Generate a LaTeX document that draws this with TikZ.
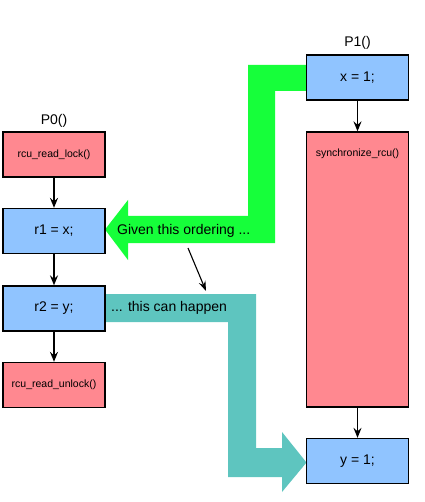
\documentclass[tikz,border=0pt]{standalone}
\usepackage{fontspec}
\setmainfont{Liberation Sans}
\usetikzlibrary{arrows.meta}
\definecolor{boxred}{RGB}{255,136,144}
\definecolor{boxblue}{RGB}{144,196,255}
\definecolor{arrgreen}{RGB}{22,255,58}
\definecolor{arrteal}{RGB}{94,197,191}
\tikzset{
  box/.style={draw=black, line width=1.3pt, minimum width=102pt, minimum height=45pt, inner sep=0pt},
  redbox/.style={box, fill=boxred, font=\fontsize{10.5}{12}\selectfont},
  bluebox/.style={box, fill=boxblue, font=\fontsize{14}{16}\selectfont},
  title/.style={font=\fontsize{14}{16}\selectfont},
  big/.style={font=\fontsize{14}{16}\selectfont, inner sep=0pt, anchor=west},
  arr/.style={line width=1.4pt, -{Stealth[length=10pt, width=8pt, inset=3.5pt]}},
  thinarr/.style={line width=1.1pt, -{Stealth[length=10pt, width=7pt, inset=3.5pt]}},
}
\begin{document}
\begin{tikzpicture}[x=1pt, y=-1pt]
\useasboundingbox (0,0) rectangle (424,502);
% big arrows
\fill[arrgreen] (307,65) -- (248,65) -- (248,216) -- (128,216) -- (128,200) -- (105,229.5)
  -- (128,260) -- (128,243) -- (275,243) -- (275,91) -- (307,91) -- cycle;
\fill[arrteal] (105,294) -- (256,294) -- (256,448) -- (282,448) -- (282,432) -- (306.5,462.5)
  -- (282,492) -- (282,477) -- (228,477) -- (228,322) -- (105,322) -- cycle;
% P0
\node[title] (p0) at (54,121) {P0()};
\node[redbox] (lock) at (54,154.5) {rcu\_read\_lock()};
\node[bluebox] (r1) at (54,231) {r1 = x;};
\node[bluebox] (r2) at (54,308.5) {r2 = y;};
\node[redbox] (unlock) at (54,385) {rcu\_read\_unlock()};
% P1
\node[title] (p1) at (357.5,43) {P1()};
\node[bluebox] (x1) at (357.5,77.5) {x = 1;};
\node[redbox, minimum height=275pt, label={[anchor=north, yshift=-14pt, font=\fontsize{10.5}{12}\selectfont]north:synchronize\_rcu()}] (sync) at (357.5,269.5) {};
\node[bluebox] (y1) at (357.5,461) {y = 1;};
% texts
\node[big] (given) at (117,231) {Given this ordering ...};
\node[big] (happen) at (111,308) {... this can happen};
\coordinate (ga) at (188,248);
\coordinate (gb) at (206,291);
% connectors
\draw[arr] (lock) -- (r1);
\draw[arr] (r1) -- (r2);
\draw[arr] (r2) -- (unlock);
\draw[arr] (x1) -- (sync);
\draw[arr] (sync) -- (y1);
\draw[thinarr] (ga) -- (gb);
\end{tikzpicture}
\end{document}
